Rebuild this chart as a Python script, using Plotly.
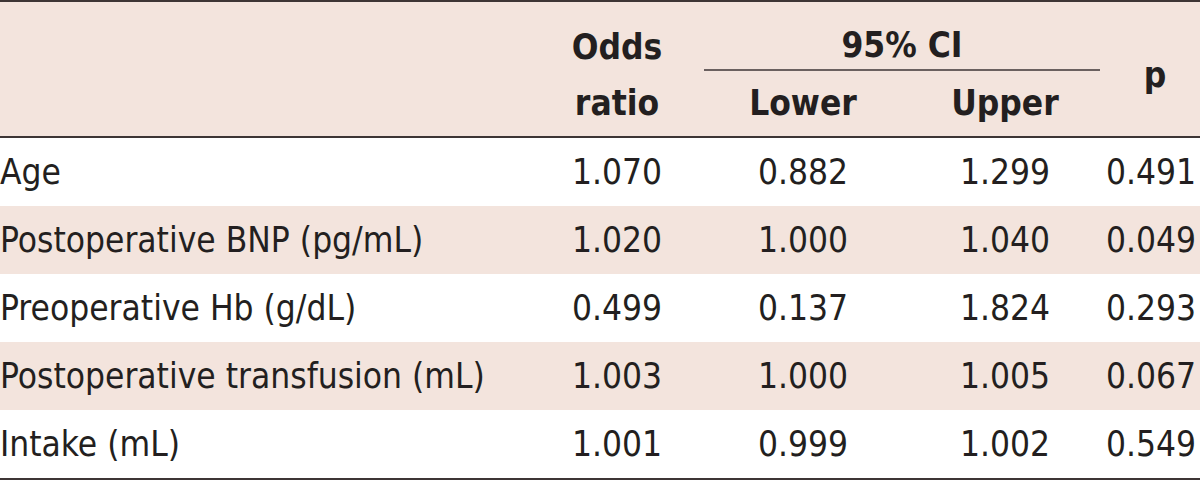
import plotly.graph_objects as go

variables = ["Age", "Postoperative BNP (pg/mL)", "Preoperative Hb (g/dL)",
             "Postoperative transfusion (mL)", "Intake (mL)"]
odds_ratio = ["1.070", "1.020", "0.499", "1.003", "1.001"]
ci_lower = ["0.882", "1.000", "0.137", "1.000", "0.999"]
ci_upper = ["1.299", "1.040", "1.824", "1.005", "1.002"]
p_values = ["0.491", "0.049", "0.293", "0.067", "0.549"]

W, H = 1200, 482
FONT = "Liberation Sans Narrow, DejaVu Sans Condensed, sans-serif"
TXT = "#231f20"
SHADE = "#f3e4dd"
LINE = "#3d3535"

header_top, header_bot = 0, 137
row_h = 68
row_tops = [header_bot + 1 + i * row_h for i in range(len(variables))]
row_mid = [t + row_h / 2 + 3 for t in row_tops]

col_x = {"or": 617, "lo": 803, "up": 1005, "p": 1151}

fig = go.Figure()
shapes = [dict(type="rect", xref="x", yref="y", x0=0, x1=W, y0=header_top, y1=header_bot,
               fillcolor=SHADE, line_width=0, layer="below")]
for i, t in enumerate(row_tops):
    if i % 2 == 1:
        shapes.append(dict(type="rect", xref="x", yref="y", x0=0, x1=W, y0=t, y1=t + row_h,
                           fillcolor=SHADE, line_width=0, layer="below"))
for y, w in [(1, 2), (header_bot, 2), (H - 3, 2)]:
    shapes.append(dict(type="line", xref="x", yref="y", x0=0, x1=W, y0=y, y1=y,
                       line=dict(color=LINE, width=w)))
shapes.append(dict(type="line", xref="x", yref="y", x0=704, x1=1100, y0=70, y1=70,
                   line=dict(color=LINE, width=1.5)))

body_font = dict(family=FONT, size=35, color=TXT)
fig.add_trace(go.Scatter(x=[0] * len(variables), y=row_mid, text=variables, mode="text",
                         textposition="middle right", textfont=body_font, hoverinfo="skip"))
for key, vals in [("or", odds_ratio), ("lo", ci_lower), ("up", ci_upper), ("p", p_values)]:
    fig.add_trace(go.Scatter(x=[col_x[key]] * len(vals), y=row_mid, text=vals, mode="text",
                             textposition="middle center", textfont=body_font, hoverinfo="skip"))

head_font = dict(family=FONT, size=35, color=TXT, weight="bold")
head_x = [col_x["or"], col_x["or"], 902, col_x["lo"], col_x["up"], 1155]
head_y = [50, 106, 48, 106, 106, 78]
head_t = ["Odds", "ratio", "95% CI", "Lower", "Upper", "p"]
fig.add_trace(go.Scatter(x=head_x, y=head_y, text=head_t, mode="text",
                         textposition="middle center", textfont=head_font, hoverinfo="skip"))

fig.update_layout(
    width=W, height=H, margin=dict(l=0, r=0, t=0, b=0),
    paper_bgcolor="white", plot_bgcolor="white", showlegend=False, shapes=shapes,
    xaxis=dict(range=[0, W], visible=False, fixedrange=True),
    yaxis=dict(range=[H, 0], visible=False, fixedrange=True),
)
fig.write_html("out.html", config={"displayModeBar": False},
               post_script="document.body.style.margin='0';")
